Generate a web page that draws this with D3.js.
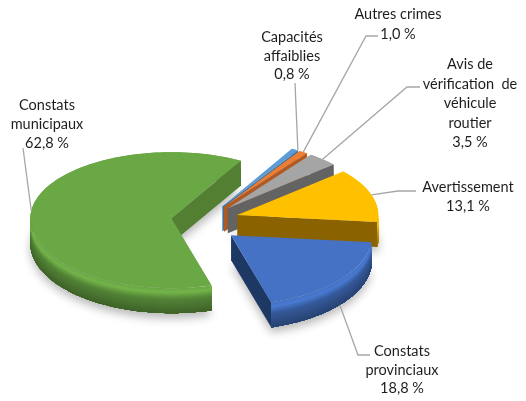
<!DOCTYPE html>
<html><head><meta charset="utf-8">
<script src="https://cdn.jsdelivr.net/npm/d3@7"></script>
<style>html,body{margin:0;padding:0;background:#fff}svg{display:block}</style>
</head><body><svg id="c" width="526" height="401"></svg>
<script>
// data
const categories = ["Capacités affaiblies","Autres crimes","Avis de vérification de véhicule routier","Avertissement","Constats provinciaux","Constats municipaux"];
const values = [0.8,1.0,3.5,13.1,18.8,62.8];
const labelLines = [["Capacités","affaiblies"],["Autres crimes"],["Avis de","vérification  de","véhicule","routier"],["Avertissement"],["Constats","provinciaux"],["Constats","municipaux"]];
const topColors = ["#5B9BD5","#ED7D31","#A5A5A5","#FFC000","#4472C4","#6BA845"];
const cutColors = ["#41719c","#ae5a21","#636363","#8a6400","#1f3864","#527f32"];

// layout
const W=526,H=401,cx=205,cy=220,rx=141,ryBack=66,ryFront=70,depth=25,explodeX=.24;
const startDeg=29.5;
const labelPos=[{x:292,y:37},{x:398,y:14},{x:470,y:64},{x:468,y:187},{x:402,y:351},{x:47,y:105}];
const lineH=[18.5,19.5,19.5,19,18.5,19];
const leaders=[[[295,83]],[[366,36],[378,36]],[[407,87],[420,87]],[[398,191],[416,191]],[[358,355],[370,355]],[[23,148]]];
const anchorFrac=[1,.5,.5,.5,.5,.5];

const svg=d3.select("#c");
const defs=svg.append("defs");
const blur=defs.append("filter").attr("id","soft").attr("x","-10%").attr("y","-10%").attr("width","120%").attr("height","120%");
blur.append("feGaussianBlur").attr("stdDeviation",.6);
const sh=defs.append("filter").attr("id","shadow").attr("x","-20%").attr("y","-20%").attr("width","140%").attr("height","140%");
sh.append("feGaussianBlur").attr("stdDeviation",5);

const pie=d3.pie().sort(null).startAngle(startDeg*Math.PI/180).endAngle((startDeg+360)*Math.PI/180);
const arcs=pie(values);
// the tilted disc reads slightly larger towards the viewer
const sy=d3.scaleLinear().domain([-1,0,1]).range([-ryFront,0,ryBack]);
const ey=d3.scaleLinear().domain([-1,0,1]).range([-24,0,16]);
const P=(c,t,dy=0)=>[c[0]+rx*Math.sin(t),c[1]-sy(Math.cos(t))+dy];
const centers=arcs.map(a=>{const m=(a.startAngle+a.endAngle)/2;return [cx+explodeX*rx*Math.sin(m),cy-ey(Math.cos(m))];});
const line=d3.line();
const rimPts=(c,a,dy,t0=a.startAngle,t1=a.endAngle)=>d3.range(0,121).map(i=>P(c,t0+(t1-t0)*i/120,dy));
const g=svg.append("g").attr("filter","url(#soft)");

// drop shadow
const shG=g.append("g").attr("filter","url(#shadow)").attr("fill","#000").attr("opacity",.28);
arcs.forEach((a,i)=>{
  const c=centers[i];
  shG.append("path").attr("d",line([[c[0],c[1]+depth+5],...rimPts(c,a,depth+5)])+"Z");
});

// painter's order: largest slice at the back, then clockwise from the top
[5,0,1,2,3,4].forEach(i=>{
  const a=arcs[i],c=centers[i],col=d3.color(topColors[i]);
  const sl=g.append("g").attr("class","slice");
  const shade=d3.scaleLinear().domain([0,.15,.42,1])
    .range([col.formatHex(),col.brighter(.2).formatHex(),col.darker(.7).formatHex(),col.darker(1.55).formatHex()])
    .interpolate(d3.interpolateRgb);
  const wall=(t0,t1)=>{ if(t1<=t0) return;
    const low=rimPts(c,a,depth,t0,t1).reverse();
    d3.range(0,depth).forEach(k=>{
      sl.append("path").attr("fill",shade(k/depth))
        .attr("d",line([...rimPts(c,a,k,t0,t1),...low])+"Z");
    });
  };
  const Q=Math.PI/2;
  // back-facing stretches first, then the visible cut faces, then front-facing stretches
  const backs=[[a.startAngle,Math.min(a.endAngle,Q)],[Math.max(a.startAngle,3*Q),a.endAngle]];
  const fronts=[[Math.max(a.startAngle,Q),Math.min(a.endAngle,3*Q)]];
  backs.forEach(b=>wall(b[0],b[1]));
  const cut=t=>{const p=P(c,t);sl.append("path").attr("fill",cutColors[i]).attr("d",line([c,p,[p[0],p[1]+depth],[c[0],c[1]+depth]])+"Z");};
  if(Math.sin(a.endAngle)>0) cut(a.endAngle);
  if(Math.sin(a.startAngle)<0) cut(a.startAngle);
  fronts.forEach(b=>wall(b[0],b[1]));
  // top face
  sl.append("path").attr("fill",col.formatHex()).attr("d",line([c,...rimPts(c,a,0)])+"Z");
});

// leaders and labels
const lg=svg.append("g").attr("filter","url(#soft)");
arcs.forEach((a,i)=>{
  const m=a.startAngle+(a.endAngle-a.startAngle)*anchorFrac[i];
  const front=Math.cos(m)<0&&i===4;
  const pts=[P(centers[i],m,front?depth:0),...leaders[i]];
  lg.append("path").attr("fill","none").attr("stroke","#a6a6a6").attr("stroke-width",1.3).attr("d",line(pts));
});
const fmt=v=>d3.format(".1f")(v).replace(".",",")+" %";
arcs.forEach((a,i)=>{
  const lines=[...labelLines[i],fmt(values[i])];
  const t=lg.append("text").attr("font-family","Lato, sans-serif").attr("font-size",14.5).attr("fill","#1f1f1f")
    .attr("text-anchor","middle").style("white-space","pre");
  lines.forEach((s,j)=>t.append("tspan").attr("x",labelPos[i].x).attr("y",labelPos[i].y+j*lineH[i]).attr("dy","0.35em").text(s));
});
</script></body></html>
